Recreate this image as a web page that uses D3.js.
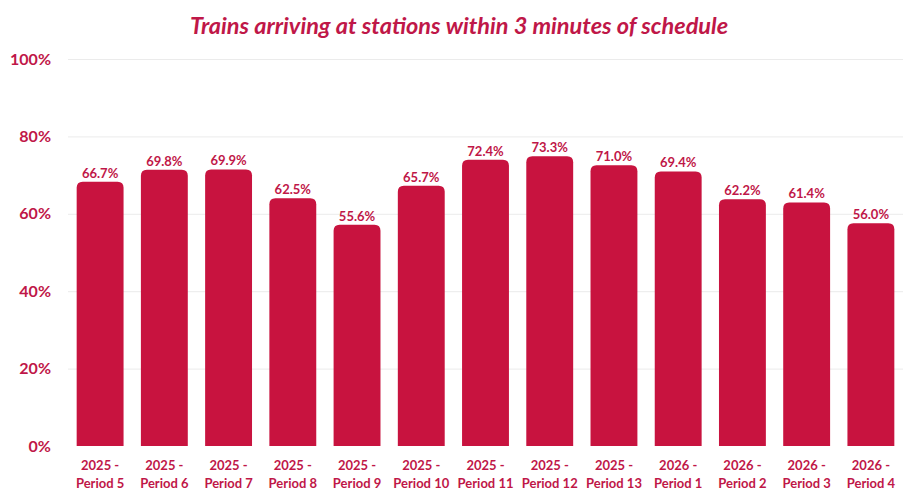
<!DOCTYPE html>
<html>
<head>
<meta charset="utf-8">
<script src="https://d3js.org/d3.v7.min.js"></script>
<style>
  body { margin: 0; background: #fff; }
  text { font-family: Lato, "Open Sans", sans-serif; }
</style>
</head>
<body>
<svg width="917" height="501"></svg>
<script>
// data
var years   = ["2025", "2025", "2025", "2025", "2025", "2025", "2025", "2025", "2025", "2026", "2026", "2026", "2026"],
    periods = ["Period 5", "Period 6", "Period 7", "Period 8", "Period 9", "Period 10", "Period 11",
               "Period 12", "Period 13", "Period 1", "Period 2", "Period 3", "Period 4"],
    values  = [66.7, 69.8, 69.9, 62.5, 55.6, 65.7, 72.4, 73.3, 71.0, 69.4, 62.2, 61.4, 56.0],
    yTicks  = [0, 20, 40, 60, 80, 100];

var barColor  = "#c8133f",
    textColor = "#bf1748";

var svg = d3.select("svg"),
    margin = {top: 59, right: 14, bottom: 55, left: 68},
    width  = 917 - margin.left - margin.right,
    height = 501 - margin.top - margin.bottom,
    g = svg.append("g").attr("transform", "translate(" + margin.left + "," + margin.top + ")");

var cats = values.map(function(d, i) { return i; });

var x = d3.scaleBand().domain(cats).range([0, width]).paddingInner(0.27).paddingOuter(0.135),
    y = d3.scaleLinear().domain([0, 100]).range([height, 0]);

// title
svg.append("text")
   .attr("x", 459).attr("y", 34)
   .attr("text-anchor", "middle")
   .style("font-size", "23.5px").style("font-weight", "bold").style("font-style", "italic")
   .style("fill", textColor)
   .text("Trains arriving at stations within 3 minutes of schedule");

// gridlines
g.selectAll(".grid").data(yTicks.filter(function(d) { return d > 0; }))
 .enter().append("line")
 .attr("x1", 0).attr("x2", width)
 .attr("y1", function(d) { return y(d) + 0.5; })
 .attr("y2", function(d) { return y(d) + 0.5; })
 .style("stroke", "#ebebeb").style("stroke-width", 1);

// y axis labels
var yAxis = d3.axisLeft(y).tickValues(yTicks).tickSize(0).tickPadding(17)
              .tickFormat(function(d) { return d + "%"; });
g.append("g").call(yAxis)
 .call(function(a) { a.select(".domain").remove(); })
 .selectAll("text")
 .style("font-size", "16px").style("font-weight", "bold").style("fill", textColor)
 .style("font-family", "Lato, 'Open Sans', sans-serif");

// bars: rounded top cap sits slightly above the value, square bottom
var r = 6;
function barPath(i) {
  var x0 = x(i), x1 = x(i) + x.bandwidth(), top = y(values[i]) - r, bot = y(0);
  return "M" + x0 + "," + bot +
         "V" + (top + r) +
         "Q" + x0 + "," + top + " " + (x0 + r) + "," + top +
         "H" + (x1 - r) +
         "Q" + x1 + "," + top + " " + x1 + "," + (top + r) +
         "V" + bot + "Z";
}

g.selectAll(".bar").data(cats)
 .enter().append("path")
 .attr("class", "bar")
 .attr("d", barPath)
 .style("fill", barColor);

// value labels
g.selectAll(".val").data(cats)
 .enter().append("text")
 .attr("x", function(i) { return x(i) + x.bandwidth() / 2; })
 .attr("y", function(i) { return y(values[i]) - r - 4; })
 .attr("text-anchor", "middle")
 .style("font-size", "13px").style("font-weight", "bold").style("fill", textColor)
 .text(function(i) { return values[i].toFixed(1) + "%"; });

// x labels, two lines
var xl = g.selectAll(".xl").data(cats)
 .enter().append("text")
 .attr("text-anchor", "middle")
 .attr("transform", function(i) { return "translate(" + (x(i) + x.bandwidth() / 2) + "," + (height + 24) + ")"; })
 .style("font-size", "13px").style("font-weight", "bold").style("fill", textColor);
xl.append("tspan").attr("x", 0).attr("dy", 0).text(function(i) { return years[i] + " -"; });
xl.append("tspan").attr("x", 0).attr("dy", 18).text(function(i) { return periods[i]; });
</script>
</body>
</html>
